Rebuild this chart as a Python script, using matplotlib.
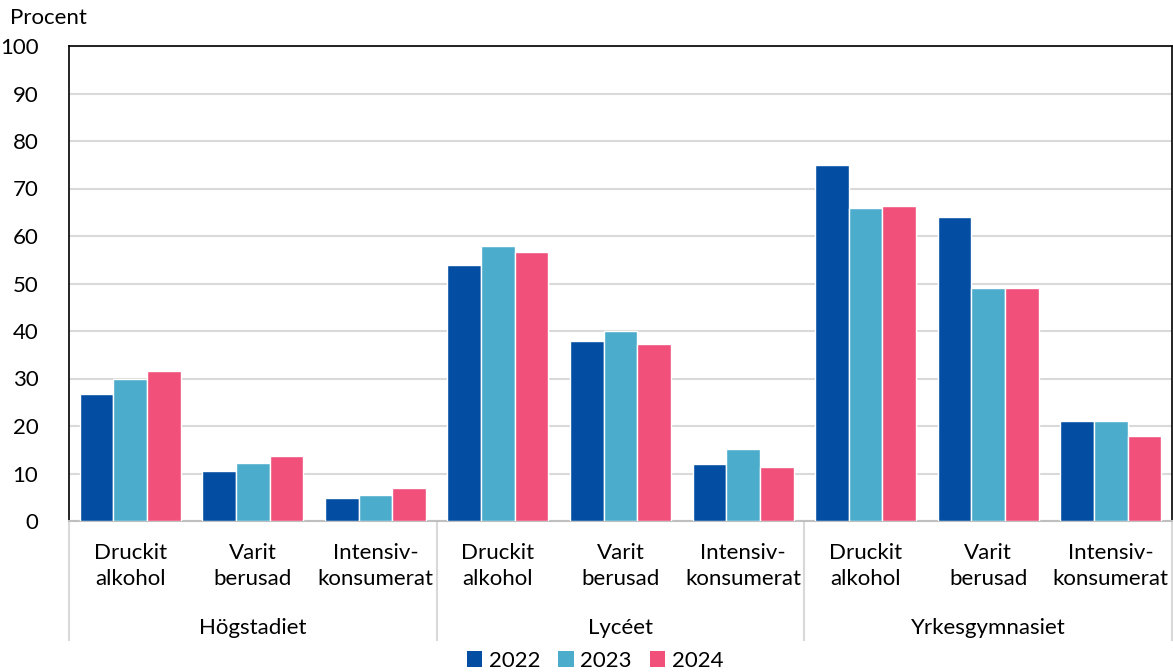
import matplotlib
matplotlib.use("Agg")
import matplotlib.pyplot as plt
from matplotlib.patches import Patch
from matplotlib.lines import Line2D
import numpy as np

plt.rcParams['font.family'] = ['Lato', 'DejaVu Sans']

groups = ["Högstadiet", "Lycéet", "Yrkesgymnasiet"]
measures = ["Druckit\nalkohol", "Varit\nberusad", "Intensiv-\nkonsumerat"]
years = ["2022", "2023", "2024"]
v2022 = [26.7, 10.5, 4.9, 54.0, 38.0, 12.1, 75.0, 64.0, 21.0]
v2023 = [30.0, 12.3, 5.5, 58.0, 40.0, 15.1, 66.0, 49.0, 21.0]
v2024 = [31.6, 13.6, 6.9, 56.6, 37.3, 11.3, 66.4, 49.0, 18.0]
colors = ["#034EA2", "#4BACCB", "#F0507A"]
yticks = [0, 10, 20, 30, 40, 50, 60, 70, 80, 90, 100]

FS = 16

fig = plt.figure(figsize=(11.73, 6.72), dpi=100)
ax = fig.add_axes([69/1173, 1-521/672, (1172-69)/1173, (521-46)/672])

x = np.arange(len(v2022))
w = 0.275
for i, (vals, c, lab) in enumerate(zip([v2022, v2023, v2024], colors, years)):
    ax.bar(x + (i-1)*w, vals, width=w, color=c, edgecolor="white", linewidth=1, label=lab, zorder=3)

ax.set_xlim(-0.5, len(x)-0.5)
ax.set_ylim(0, 100)
ax.set_yticks(yticks)
ax.set_yticklabels([str(t) for t in yticks], fontsize=FS)
ax.tick_params(axis='y', length=0, pad=22)
ax.set_xticks([])
ax.yaxis.grid(True, color="#D9D9D9", linewidth=1.5, zorder=0)
ax.set_axisbelow(True)
for s in ["left", "top", "right"]:
    ax.spines[s].set_color("black")
    ax.spines[s].set_linewidth(1.2)
ax.spines["bottom"].set_color("#BFBFBF")
ax.spines["bottom"].set_linewidth(1.5)

trans = ax.get_xaxis_transform()
# category labels
for i in range(len(x)):
    ax.text(x[i], -(566-521)/475, measures[i % 3], transform=trans, ha="center", va="center",
            fontsize=FS, linespacing=1.4)
# group labels
for g, name in enumerate(groups):
    ax.text(g*3 + 1, -(628-521)/475, name, transform=trans, ha="center", va="center", fontsize=FS)
# separators
for b in [-0.5, 2.5, 5.5, 8.5]:
    ax.add_line(Line2D([b, b], [0, -0.25], transform=trans, color="#D9D9D9",
                       linewidth=1.5, clip_on=False))

fig.text(10/1173, 1-18/672, "Procent", fontsize=FS, ha="left", va="center")

handles = [Patch(facecolor=c, edgecolor="none") for c in colors]
fig.legend(handles, years, loc="center", bbox_to_anchor=(595/1173, 1-661/672), ncol=3,
           frameon=False, fontsize=FS, handlelength=0.7, handleheight=0.7,
           handletextpad=0.3, columnspacing=0.8, borderpad=0)

fig.savefig("out.png", dpi=100)
